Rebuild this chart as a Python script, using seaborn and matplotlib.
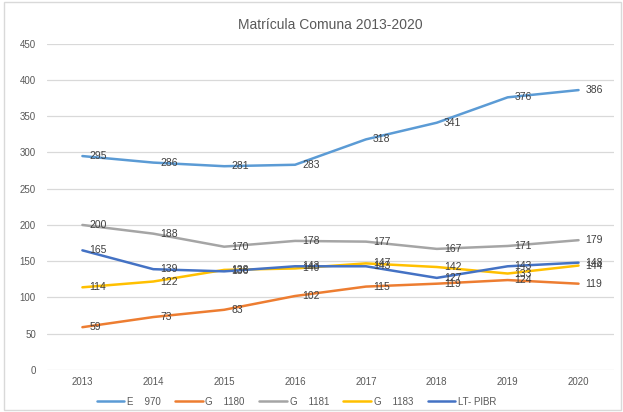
import pandas as pd
import seaborn as sns
from matplotlib import pyplot as plt
from matplotlib.patches import Rectangle

# Datos
years = ['2013', '2014', '2015', '2016', '2017', '2018', '2019', '2020']
e_970 = [295, 286, 281, 283, 318, 341, 376, 386]
g_1180 = [59, 73, 83, 102, 115, 119, 124, 119]
g_1181 = [200, 188, 170, 178, 177, 167, 171, 179]
g_1183 = [114, 122, 138, 140, 147, 142, 133, 144]
lt_pibr = [165, 139, 136, 143, 143, 127, 143, 148]

series_names = ['E    970', 'G    1180', 'G    1181', 'G    1183', 'LT- PIBR']
series_values = [e_970, g_1180, g_1181, g_1183, lt_pibr]
colors = ['#5B9BD5', '#ED7D31', '#A5A5A5', '#FFC000', '#4472C4']

rows = []
for name, vals in zip(series_names, series_values):
    for i, v in enumerate(vals):
        rows.append({'pos': i, 'Año': years[i], 'Serie': name, 'Valor': v})
df = pd.DataFrame(rows)

sns.set_style('white')
plt.rcParams['font.family'] = ['Liberation Sans', 'DejaVu Sans']

fig = plt.figure(figsize=(6.23, 4.12), dpi=100)
ax = fig.add_axes([0.0754, 0.102, 0.9101, 0.792])

sns.lineplot(data=df, x='pos', y='Valor', hue='Serie', palette=colors,
             linewidth=1.8, sort=False, ax=ax, legend=True)

# Etiquetas de datos a la derecha de cada punto
for name, vals in zip(series_names, series_values):
    for i, v in enumerate(vals):
        ax.annotate(str(v), (i, v), xytext=(5, 0), textcoords='offset points',
                    ha='left', va='center', fontsize=7.5, color='#404040')

ax.set_xlim(-0.5, 7.5)
ax.set_ylim(0, 450)
ax.set_yticks(range(0, 451, 50))
ax.set_xticks(range(len(years)))
ax.set_xticklabels(years)
ax.tick_params(axis='both', labelsize=7, colors='#595959', length=0)
ax.tick_params(axis='x', pad=5)
ax.tick_params(axis='y', pad=8)
ax.yaxis.grid(True, color='#D9D9D9', linewidth=0.9)
ax.set_axisbelow(True)
for s in ax.spines.values():
    s.set_visible(False)
ax.set_xlabel('')
ax.set_ylabel('')

ax.set_title('Matrícula Comuna 2013-2020', fontsize=10, color='#595959', y=1.02)

handles, labels = ax.get_legend_handles_labels()
ax.legend(handles, labels, loc='upper center', bbox_to_anchor=(0.44, -0.055),
          ncol=5, frameon=False, fontsize=7, labelcolor='#595959',
          handlelength=2.8, columnspacing=1.5, handletextpad=0.3)

# Borde del área del gráfico
fig.patches.append(Rectangle((0.006, 0.005), 0.99, 0.99, transform=fig.transFigure,
                             fill=False, edgecolor='#D9D9D9', linewidth=1))

fig.savefig('out.png', dpi=100)
